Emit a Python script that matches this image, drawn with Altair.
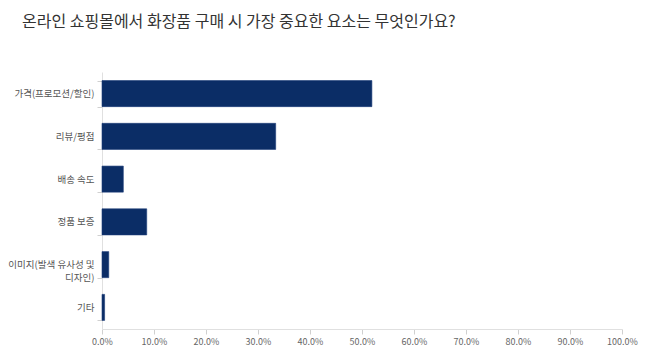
import altair as alt
import pandas as pd

categories = ["가격(프로모션/할인)", "리뷰/평점", "배송 속도", "정품 보증", "이미지(발색 유사성 및\n디자인)", "기타"]
values = [0.519, 0.334, 0.041, 0.086, 0.013, 0.005]

df = pd.DataFrame({"category": categories, "value": values})

FONT = "Noto Sans CJK KR"

chart = alt.Chart(df).mark_bar(color="#0b2d66", stroke="#1c3d78", strokeWidth=0.6).encode(
    y=alt.Y("category:N", sort=categories, title=None,
            scale=alt.Scale(paddingInner=0.39, paddingOuter=0.2),
            axis=alt.Axis(labelExpr="split(datum.label, '\\n')", labelFont=FONT,
                          labelFontSize=9.5, labelColor="#555555", tickBand="extent",
                          tickColor="#d0d0d0", tickSize=5, domainColor="#e0e0e0",
                          labelPadding=3, labelLineHeight=13)),
    x=alt.X("value:Q", title=None,
            scale=alt.Scale(domain=[0, 1]),
            axis=alt.Axis(format=".1%", values=[i / 10 for i in range(11)], grid=False,
                          labelFont=FONT, labelFontSize=9, labelColor="#666666",
                          tickColor="#d0d0d0", tickSize=5, domainColor="#e0e0e0",
                          labelPadding=3, labelFlush=False)),
).properties(
    width=520,
    height=257,
    title=alt.TitleParams("온라인 쇼핑몰에서 화장품 구매 시 가장 중요한 요소는 무엇인가요?",
                          anchor="start", frame="group", font=FONT, fontSize=16,
                          fontWeight="normal", color="#333333", dx=-80, offset=37),
    autosize=alt.AutoSizeParams(type="none"),
    padding={"left": 94, "top": 64, "right": 20, "bottom": 22},
).configure_view(stroke=None)

chart.save("out.html", embed_options={"renderer": "svg", "actions": False})
